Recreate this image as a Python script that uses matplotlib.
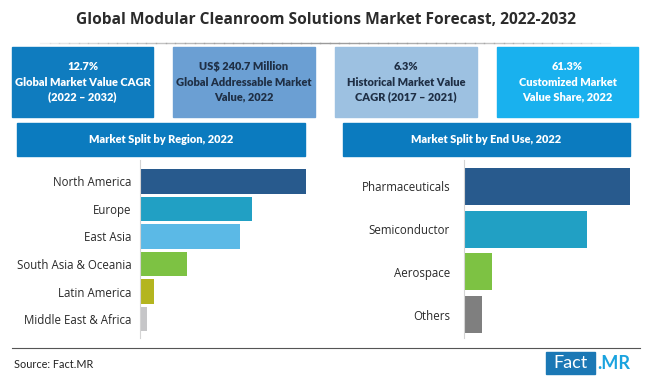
import matplotlib
matplotlib.use("Agg")
import matplotlib.pyplot as plt
from matplotlib.patches import Rectangle
import numpy as np

W, H = 650, 385

title = "Global Modular Cleanroom Solutions Market Forecast, 2022-2032"

box_texts = [
    "12.7%\nGlobal Market Value CAGR\n(2022 \u2013 2032)",
    "US$ 240.7 Million\nGlobal Addressable Market\nValue, 2022",
    "6.3%\nHistorical Market Value\nCAGR (2017 \u2013 2021)",
    "61.3%\nCustomized Market\nValue Share, 2022",
]
box_colors = ["#0f7cbf", "#6b9fd3", "#9dc1e1", "#19b1ee"]
box_text_colors = ["white", "#1f2f45", "#1f2f45", "white"]

regions = ["North America", "Europe", "East Asia", "South Asia & Oceania",
           "Latin America", "Middle East & Africa"]
region_share = [37.2, 25.1, 22.4, 10.5, 3.1, 1.6]
region_colors = ["#285a8d", "#21a0c4", "#5bb9e6", "#7dc243", "#b4b51f", "#c6c6c8"]

end_uses = ["Pharmaceuticals", "Semiconductor", "Aerospace", "Others"]
end_use_share = [49.6, 36.7, 8.4, 5.4]
end_use_colors = ["#285a8d", "#21a0c4", "#7dc243", "#7f7f7f"]

banner_color = "#0b7bbf"
FONT = "Lato"


def fx(x):
    return x / W


def fy(y):
    return 1 - y / H


def rect(fig, x0, y0, x1, y1, color):
    fig.patches.append(Rectangle((fx(x0), fy(y1)), fx(x1) - fx(x0), fy(y0) - fy(y1),
                                 transform=fig.transFigure, color=color, zorder=1))


fig = plt.figure(figsize=(W / 100, H / 100), dpi=100)
fig.patch.set_facecolor("white")

fig.text(fx(326), fy(20), title, ha="center", va="center", fontsize=11.2,
         fontweight="bold", color="#2b2b2b", family="Open Sans")

# faded rule under the title
xs = np.linspace(40, 610, 60)
for a, b in zip(xs[:-1], xs[1:]):
    mid = (a + b) / 2
    alpha = max(0.0, 1 - abs(mid - 325) / 290) ** 0.6
    fig.add_artist(plt.Line2D([fx(a), fx(b)], [fy(43), fy(43)], transform=fig.transFigure,
                              color="#9a9a9a", lw=1, alpha=alpha))

box_x = [(12, 153), (173, 315), (335, 477), (497, 638)]
for (x0, x1), txt, c, tc in zip(box_x, box_texts, box_colors, box_text_colors):
    rect(fig, x0, 47, x1, 117, c)
    fig.text(fx((x0 + x1) / 2), fy(82), txt, ha="center", va="center", fontsize=7.9,
             fontweight="heavy", color=tc, family=FONT, linespacing=1.45)

# section banners
rect(fig, 17, 123, 305, 156, banner_color)
fig.text(fx(161), fy(139.5), "Market Split by Region, 2022", ha="center", va="center",
         fontsize=7.9, fontweight="heavy", color="white", family=FONT)
rect(fig, 343, 123, 630, 156, banner_color)
fig.text(fx(486), fy(139.5), "Market Split by End Use, 2022", ha="center", va="center",
         fontsize=7.9, fontweight="heavy", color="white", family=FONT)

# region bars
ax1 = fig.add_axes([fx(140), fy(338), fx(310) - fx(140), fy(160) - fy(338)])
y1 = np.arange(len(regions))
ax1.barh(y1, region_share, color=region_colors, height=0.9)
ax1.set_ylim(5.69, -0.78)
ax1.set_xlim(0, max(region_share) * 170 / 166)

# end use bars
ax2 = fig.add_axes([fx(464), fy(338), fx(640) - fx(464), fy(160) - fy(338)])
y2 = np.arange(len(end_uses))
ax2.barh(y2, end_use_share, color=end_use_colors, height=0.87)
ax2.set_ylim(3.55, -0.62)
ax2.set_xlim(0, max(end_use_share) * 176 / 166)

for ax, y, labels, pad in [(ax1, y1, regions, 6), (ax2, y2, end_uses, 10)]:
    ax.set_yticks(y)
    ax.set_yticklabels(labels, fontsize=8.3, color="#2a2a2a", family="Open Sans")
    ax.tick_params(axis="y", length=0, pad=pad)
    ax.set_xticks([])
    for s in ["top", "right", "bottom"]:
        ax.spines[s].set_visible(False)
    ax.spines["left"].set_color("#d4d4d4")
    ax.patch.set_alpha(0)

# footer
fig.add_artist(plt.Line2D([fx(12), fx(640)], [fy(348), fy(348)], transform=fig.transFigure,
                          color="#555555", lw=0.8))
fig.text(fx(14), fy(364), "Source: Fact.MR", ha="left", va="center", fontsize=7.8,
         color="#222222", family=FONT)
rect(fig, 546, 352, 595, 374, "#1b78b5")
fig.text(fx(570.5), fy(363.5), "Fact", ha="center", va="center", fontsize=13,
         color="white", family=FONT)
fig.text(fx(597), fy(363.5), ".MR", ha="left", va="center", fontsize=13,
         fontweight="bold", color="#1aa3df", family=FONT)

fig.savefig("out.png", dpi=100)
